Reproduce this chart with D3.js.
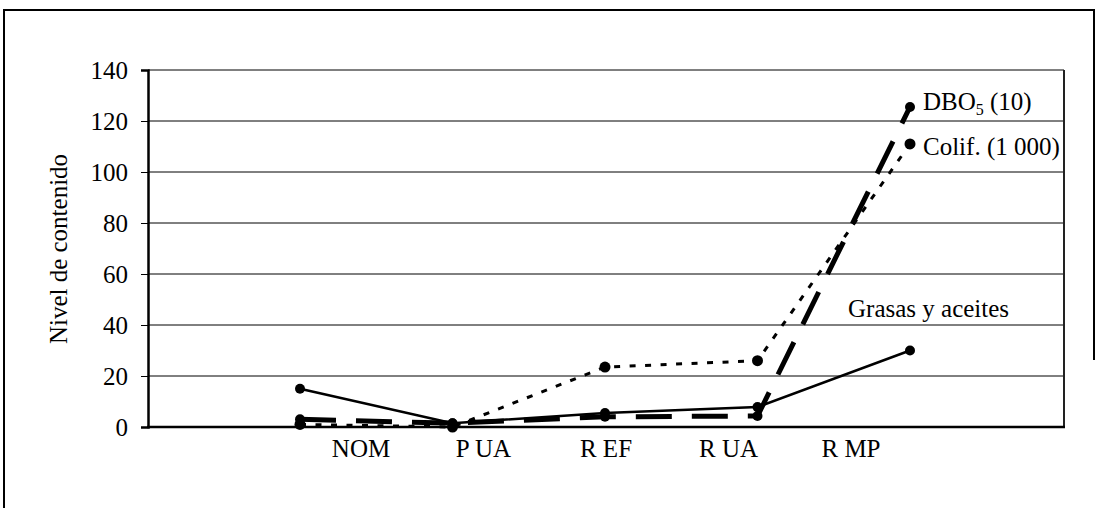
<!DOCTYPE html>
<html><head><meta charset="utf-8">
<script src="https://cdn.jsdelivr.net/npm/d3@7"></script>
<style>body{margin:0;background:#fff}svg{display:block}text{font-family:"Liberation Serif","Times New Roman",serif;fill:#000}</style>
</head><body><svg id="c" width="1098" height="508"></svg>
<script>
const categories = ["NOM","P UA","R EF","R UA","R MP"];
const grasas = [15, 1.5, 5.5, 7.8, 30];
const dbo = [3, 1.5, 4, 4.3, 125.5];
const colif = [1, 0, 23.5, 26, 111];
const yTicks = [0,20,40,60,80,100,120,140];
const seriesNames = ["Grasas y aceites","DBO","Colif. (1 000)"];

const svg = d3.select("#c");
const FS = 25;
const L = 148, R = 1064, T = 70, B = 427;
const y = d3.scaleLinear().domain([0,140]).range([B,T]);
const x = d3.scalePoint().domain(categories).range([300,910]);
const xl = d3.scalePoint().domain(categories).range([361,851]);

// outer frame
svg.append("path").attr("d",`M4,508 V10 H1094 V360`).attr("fill","none").attr("stroke","#000").attr("stroke-width",2);

// gridlines
svg.append("g").selectAll("line").data(yTicks.filter(d=>d>0)).join("line")
  .attr("x1",L).attr("x2",R).attr("y1",d=>y(d)).attr("y2",d=>y(d))
  .attr("stroke","#000").attr("stroke-width",1);
// right border
svg.append("line").attr("x1",R).attr("x2",R).attr("y1",T).attr("y2",B).attr("stroke","#222").attr("stroke-width",2);

// y axis
const ya = svg.append("g").attr("transform",`translate(${L},0)`)
  .call(d3.axisLeft(y).tickValues(yTicks).tickSize(7).tickPadding(13).tickFormat(d3.format("d")));
ya.select(".domain").attr("stroke","#000").attr("stroke-width",2.5);
ya.selectAll(".tick line").attr("stroke","#000").attr("stroke-width",1);
ya.selectAll("text").attr("font-size",FS).attr("font-family","Liberation Serif");

// x axis line
svg.append("line").attr("x1",L-1).attr("x2",R+1).attr("y1",B).attr("y2",B).attr("stroke","#000").attr("stroke-width",2.5);
// category labels
svg.append("g").selectAll("text").data(categories).join("text")
  .attr("x",d=>xl(d)).attr("y",457).attr("text-anchor","middle").attr("font-size",FS).text(d=>d);

// y title
svg.append("text").attr("transform","translate(67,249) rotate(-90)").attr("text-anchor","middle")
  .attr("font-size",FS).text("Nivel de contenido");

const line = d3.line().x((d,i)=>x(categories[i])).y(d=>y(d));
const series = [
  {v:colif, w:3, dash:"6,9.5", r:5.5},
  {v:grasas, w:2.5, dash:null, r:5},
  {v:dbo, w:5, dash:"36,20", r:5},
];
series.forEach(s=>{
  svg.append("path").datum(s.v).attr("d",line).attr("fill","none").attr("stroke","#000")
    .attr("stroke-width",s.w).attr("stroke-dasharray",s.dash);
  svg.append("g").selectAll("circle").data(s.v).join("circle")
    .attr("cx",(d,i)=>x(categories[i])).attr("cy",d=>y(d)).attr("r",s.r).attr("fill","#000");
});

// labels
const lab = svg.append("g").attr("font-size",FS);
const t1 = lab.append("text").attr("x",923).attr("y",110).attr("font-size",FS);
t1.append("tspan").text("DBO");
t1.append("tspan").attr("font-size",16).attr("dy",5).text("5");
t1.append("tspan").attr("dy",-5).text(" (10)");
lab.append("text").attr("x",923).attr("y",155).attr("font-size",FS).text(seriesNames[2]);
lab.append("text").attr("x",848).attr("y",317).attr("font-size",FS).text(seriesNames[0]);
</script></body></html>
